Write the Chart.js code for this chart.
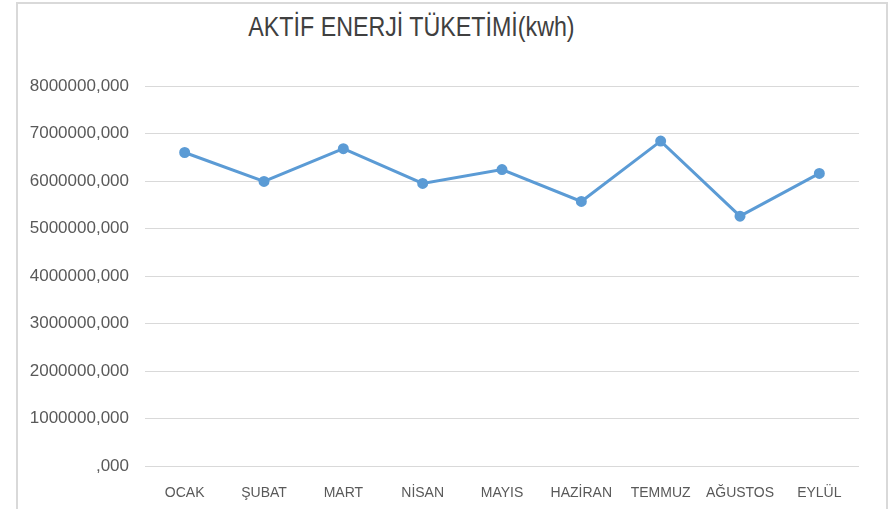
<!DOCTYPE html>
<html>
<head>
<meta charset="utf-8">
<script src="https://cdn.jsdelivr.net/npm/chart.js@4"></script>
<style>
  body { margin: 0; background: #fff; overflow: hidden; }
  #frame {
    position: absolute; left: 16px; top: 2px; width: 868px; height: 540px;
    border: 2px solid #d9d9d9;
  }
  #title {
    position: absolute; left: 0; top: 13px; width: 823px;
    text-align: center; font-family: "Liberation Sans", sans-serif;
    font-size: 28px; line-height: 28px; color: #404040;
    transform: scaleX(0.83); transform-origin: 411.5px 0;
  }
  #wrap { position: absolute; left: 0; top: 0; width: 896px; height: 509px; }
</style>
</head>
<body>
<div id="frame"></div>
<div id="title">AKTİF ENERJİ TÜKETİMİ(kwh)</div>
<div id="wrap"><canvas id="chart1"></canvas></div>
<script>
// months on the x axis
const months = ['OCAK', 'ŞUBAT', 'MART', 'NİSAN', 'MAYIS', 'HAZİRAN', 'TEMMUZ', 'AĞUSTOS', 'EYLÜL'];
// kwh per month
const consumption = [6600000, 5990000, 6680000, 5950000, 6240000, 5570000, 6840000, 5260000, 6160000];
// y axis range
const yMin = 0;
const yMax = 8000000;
const yStep = 1000000;

const ctx1 = document.getElementById('chart1').getContext('2d');

const chart1 = new Chart(ctx1, {
    type: 'line',
    data: {
        labels: months,
        datasets: [{
            label: 'AKTİF ENERJİ TÜKETİMİ(kwh)',
            data: consumption,
            borderColor: '#5b9bd5',
            backgroundColor: '#5b9bd5',
            borderWidth: 3,
            pointRadius: 4,
            pointHoverRadius: 4,
            tension: 0,
            fill: false
        }]
    },
    options: {
        responsive: true,
        maintainAspectRatio: false,
        animation: false,
        layout: {
            padding: { top: 86, right: 37, bottom: 0, left: 0 }
        },
        plugins: {
            legend: { display: false },
            title: { display: false },
            tooltip: { enabled: false }
        },
        scales: {
            x: {
                offset: true,
                grid: { display: false, drawTicks: false },
                border: { display: false },
                ticks: {
                    color: '#595959',
                    padding: 19,
                    maxRotation: 0,
                    autoSkip: false,
                    font: { family: 'Liberation Sans', size: 14 }
                },
                afterFit: scale => { scale.height = 43; }
            },
            y: {
                min: yMin,
                max: yMax,
                grid: { color: '#d9d9d9', lineWidth: 1, drawTicks: false },
                border: { display: false },
                ticks: {
                    stepSize: yStep,
                    color: '#595959',
                    padding: 16,
                    font: { family: 'Liberation Sans', size: 17 },
                    // Excel style: 0 shows as ",000"
                    callback: v => (v === 0 ? '' : String(v)) + ',000'
                },
                afterFit: scale => { scale.width = 145; }
            }
        }
    }
});
</script>
</body>
</html>
